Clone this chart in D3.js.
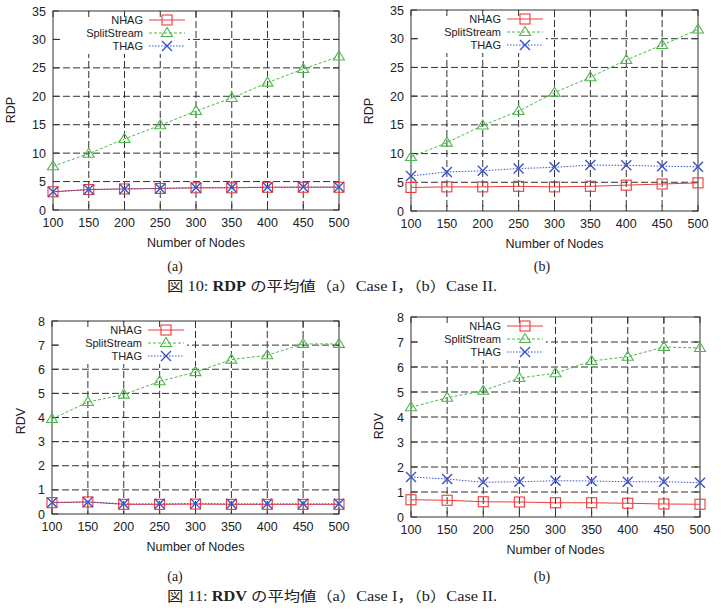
<!DOCTYPE html>
<html>
<head>
<meta charset="utf-8">
<script src="https://cdn.jsdelivr.net/npm/d3@7"></script>
<style>
  body { margin: 0; background: #fff; }
  svg text { font-family: "Liberation Sans", Arial, sans-serif; fill: #222; }
</style>
</head>
<body>
<div id="app"></div>
<script>
// x categories (number of nodes) and axis ticks
const nodes = [100, 150, 200, 250, 300, 350, 400, 450, 500];
const rdpTicks = [0, 5, 10, 15, 20, 25, 30, 35];
const rdvTicks = [0, 1, 2, 3, 4, 5, 6, 7, 8];
const seriesNames = ["NHAG", "SplitStream", "THAG"];

// RDP, case I
const rdpCase1NHAG = [3.2, 3.6, 3.7, 3.8, 3.9, 3.9, 4.0, 4.0, 4.0];
const rdpCase1Split = [7.7, 9.9, 12.5, 14.9, 17.4, 19.7, 22.4, 24.8, 27.0];
const rdpCase1THAG = [3.2, 3.6, 3.7, 3.8, 3.9, 3.95, 4.0, 4.05, 4.05];

// RDP, case II
const rdpCase2NHAG = [4.1, 4.2, 4.2, 4.3, 4.2, 4.3, 4.5, 4.7, 4.9];
const rdpCase2Split = [9.4, 11.9, 14.9, 17.4, 20.6, 23.3, 26.3, 28.9, 31.6];
const rdpCase2THAG = [6.1, 6.8, 7.0, 7.4, 7.6, 8.0, 7.95, 7.8, 7.7];

// RDV, case I
const rdvCase1NHAG = [0.47, 0.5, 0.4, 0.4, 0.41, 0.4, 0.4, 0.4, 0.4];
const rdvCase1Split = [3.94, 4.64, 4.95, 5.5, 5.88, 6.4, 6.58, 7.05, 7.05];
const rdvCase1THAG = [0.48, 0.5, 0.42, 0.42, 0.43, 0.42, 0.42, 0.42, 0.42];

// RDV, case II
const rdvCase2NHAG = [0.69, 0.67, 0.61, 0.6, 0.57, 0.57, 0.55, 0.52, 0.51];
const rdvCase2Split = [4.39, 4.77, 5.05, 5.56, 5.75, 6.24, 6.41, 6.8, 6.76];
const rdvCase2THAG = [1.6, 1.52, 1.39, 1.41, 1.45, 1.44, 1.41, 1.41, 1.37];

const colors = ["#ee3a3a", "#4cb84c", "#3a52c8"];
const dashes = [null, "3,2", "1.5,1.5"];
const markers = ["square", "triangle", "cross"];

const svg = d3.select("#app").append("svg")
  .attr("width", 721)
  .attr("height", 612);

const panels = [
  { left: 53, top: 11, right: 339, bottom: 210, ticks: rdpTicks, label: "RDP",
    labelX: 10, labelY: 110, series: [rdpCase1NHAG, rdpCase1Split, rdpCase1THAG] },
  { left: 411, top: 10, right: 698, bottom: 211, ticks: rdpTicks, label: "RDP",
    labelX: 368, labelY: 111, series: [rdpCase2NHAG, rdpCase2Split, rdpCase2THAG] },
  { left: 52, top: 321, right: 339, bottom: 514, ticks: rdvTicks, label: "RDV",
    labelX: 20, labelY: 421, series: [rdvCase1NHAG, rdvCase1Split, rdvCase1THAG] },
  { left: 411, top: 317, right: 700, bottom: 517, ticks: rdvTicks, label: "RDV",
    labelX: 378, labelY: 426, series: [rdvCase2NHAG, rdvCase2Split, rdvCase2THAG] }
];

panels.forEach(drawPanel);

function drawMarker(g, type, x, y, color) {
  if (type === "square") {
    g.append("rect").attr("x", x - 5).attr("y", y - 5)
      .attr("width", 10).attr("height", 10)
      .attr("fill", "none").attr("stroke", color).attr("stroke-width", 1.1);
  } else if (type === "triangle") {
    g.append("path")
      .attr("d", `M${x},${y - 5.5}L${x + 5.5},${y + 3.5}L${x - 5.5},${y + 3.5}Z`)
      .attr("fill", "none").attr("stroke", color).attr("stroke-width", 1.1);
  } else {
    g.append("path")
      .attr("d", `M${x - 5},${y - 5}L${x + 5},${y + 5}M${x - 5},${y + 5}L${x + 5},${y - 5}`)
      .attr("fill", "none").attr("stroke", color).attr("stroke-width", 1.4);
  }
}

function drawPanel(p) {
  const g = svg.append("g");
  const x = d3.scaleLinear().domain([100, 500]).range([p.left, p.right]);
  const y = d3.scaleLinear().domain([0, d3.max(p.ticks)]).range([p.bottom, p.top]);

  // grid
  g.selectAll("line.gx").data(nodes.slice(1, -1)).join("line")
    .attr("x1", d => x(d)).attr("x2", d => x(d))
    .attr("y1", p.top).attr("y2", p.bottom)
    .attr("stroke", "#333").attr("stroke-width", 1).attr("stroke-dasharray", "7,3");
  g.selectAll("line.gy").data(p.ticks.slice(1, -1)).join("line")
    .attr("y1", d => y(d)).attr("y2", d => y(d))
    .attr("x1", p.left).attr("x2", p.right)
    .attr("stroke", "#333").attr("stroke-width", 1).attr("stroke-dasharray", "7,3");

  // legend box (opaque)
  const lx = p.left, ly = p.top;
  g.append("rect").attr("x", lx + 7).attr("y", ly + 1)
    .attr("width", 128).attr("height", 42).attr("fill", "#fff");

  // ticks inside on all four sides
  const tk = g.append("g").attr("stroke", "#333").attr("stroke-width", 1);
  nodes.forEach(d => {
    tk.append("line").attr("x1", x(d)).attr("x2", x(d)).attr("y1", p.bottom).attr("y2", p.bottom - 6);
    tk.append("line").attr("x1", x(d)).attr("x2", x(d)).attr("y1", p.top).attr("y2", p.top + 6);
  });
  p.ticks.forEach(d => {
    tk.append("line").attr("y1", y(d)).attr("y2", y(d)).attr("x1", p.left).attr("x2", p.left + 6);
    tk.append("line").attr("y1", y(d)).attr("y2", y(d)).attr("x1", p.right).attr("x2", p.right - 6);
  });

  // frame
  g.append("rect").attr("x", p.left).attr("y", p.top)
    .attr("width", p.right - p.left).attr("height", p.bottom - p.top)
    .attr("fill", "none").attr("stroke", "#333").attr("stroke-width", 1);

  // tick labels
  g.selectAll("text.xt").data(nodes).join("text")
    .attr("x", d => x(d)).attr("y", p.bottom + 17)
    .attr("text-anchor", "middle").attr("font-size", 12.5).text(d => d);
  g.selectAll("text.yt").data(p.ticks).join("text")
    .attr("x", p.left - 7).attr("y", d => y(d)).attr("dy", "0.36em")
    .attr("text-anchor", "end").attr("font-size", 12.5).text(d => d);

  // axis titles
  g.append("text").attr("x", (p.left + p.right) / 2).attr("y", p.bottom + 37)
    .attr("text-anchor", "middle").attr("font-size", 12.5).text("Number of Nodes");
  g.append("text").attr("transform", `translate(${p.labelX},${p.labelY}) rotate(-90)`)
    .attr("dy", "0.36em").attr("text-anchor", "middle").attr("font-size", 12.5).text(p.label);

  // series
  p.series.forEach((vals, i) => {
    const line = d3.line().x((d, j) => x(nodes[j])).y(d => y(d));
    g.append("path").datum(vals).attr("d", line)
      .attr("fill", "none").attr("stroke", colors[i]).attr("stroke-width", 1)
      .attr("stroke-dasharray", dashes[i]);
    vals.forEach((v, j) => drawMarker(g, markers[i], x(nodes[j]), y(v), colors[i]));
  });

  // legend entries
  seriesNames.forEach((name, i) => {
    const ry = ly + 9 + i * 13;
    g.append("text").attr("x", lx + 90).attr("y", ry).attr("dy", "0.36em")
      .attr("text-anchor", "end").attr("font-size", 11).text(name);
    g.append("line").attr("x1", lx + 96).attr("x2", lx + 132)
      .attr("y1", ry).attr("y2", ry)
      .attr("stroke", colors[i]).attr("stroke-width", 1).attr("stroke-dasharray", dashes[i]);
    drawMarker(g, markers[i], lx + 114, ry, colors[i]);
  });
}

// captions
const subLabels = [
  { x: 175, y: 271, t: "(a)" }, { x: 542, y: 271, t: "(b)" },
  { x: 175, y: 581, t: "(a)" }, { x: 542, y: 581, t: "(b)" }
];
const captions = [
  { y: 291, num: "図 10: ", metric: "RDP" },
  { y: 601, num: "図 11: ", metric: "RDV" }
];
const captionTail = " の平均値（a）Case I，（b）Case II.";

svg.selectAll("text.sub").data(subLabels).join("text")
  .attr("x", d => d.x).attr("y", d => d.y).attr("text-anchor", "middle")
  .style("font-family", "'Liberation Serif', serif").attr("font-size", 14).text(d => d.t);

captions.forEach(c => {
  const t = svg.append("text").attr("x", 167).attr("y", c.y)
    .attr("textLength", 330).attr("lengthAdjust", "spacingAndGlyphs")
    .style("font-family", "'Liberation Serif', 'Noto Sans CJK JP', serif")
    .attr("font-size", 14);
  t.append("tspan").text(c.num);
  t.append("tspan").attr("font-weight", "bold").text(c.metric);
  t.append("tspan").text(captionTail);
});
</script>
</body>
</html>
